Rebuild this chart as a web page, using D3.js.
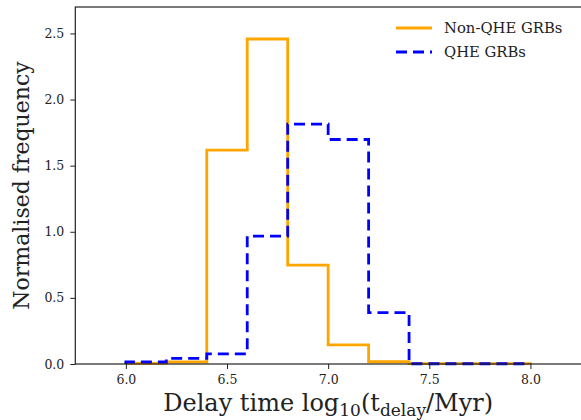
<!DOCTYPE html>
<html>
<head>
<meta charset="utf-8">
<script src="https://cdn.jsdelivr.net/npm/d3@7"></script>
<style>
  body { margin: 0; background: #fff; }
  svg text { font-family: "DejaVu Serif", "Liberation Serif", serif; fill: #222; }
</style>
</head>
<body>
<div id="chart"></div>
<script>
const width = 581;
const height = 420;

// bin edges of log10(t_delay / Myr)
const binEdges = [6.0, 6.2, 6.4, 6.6, 6.8, 7.0, 7.2, 7.4, 7.6, 7.8, 8.0];
// normalised frequencies per bin
const nonQheValues = [0.005, 0.015, 1.617, 2.458, 0.748, 0.144, 0.017, 0.003, 0.003, 0.003];
const qheValues = [0.015, 0.043, 0.076, 0.967, 1.814, 1.698, 0.388, 0.002, 0.002, 0.002];

const xTicks = [6.0, 6.5, 7.0, 7.5, 8.0];
const yTicks = [0.0, 0.5, 1.0, 1.5, 2.0, 2.5];

const series = [
    { name: "Non-QHE GRBs", values: nonQheValues, color: "#FFA500", dash: null },
    { name: "QHE GRBs", values: qheValues, color: "#0000FF", dash: "11,6" }
];

const margin = { left: 75.3, right: 0, top: 7, bottom: 56 };

const x = d3.scaleLinear()
    .domain([5.75, 8.25])
    .range([margin.left, width - margin.right]);

const y = d3.scaleLinear()
    .domain([0, 2.7])
    .range([height - margin.bottom, margin.top]);

const svg = d3.select("#chart")
    .append("svg")
    .attr("width", width)
    .attr("height", height);

// step outline like histtype="step"
function stepPath(values) {
    let d = `M${x(binEdges[0])},${y(0)}`;
    values.forEach((v, i) => {
        d += `V${y(v)}H${x(binEdges[i + 1])}`;
    });
    d += `V${y(0)}`;
    return d;
}

svg.selectAll("path.hist")
    .data(series)
    .join("path")
    .attr("class", "hist")
    .attr("d", d => stepPath(d.values))
    .attr("fill", "none")
    .attr("stroke", d => d.color)
    .attr("stroke-width", 2.8)
    .attr("stroke-dasharray", d => d.dash);

// axes
const xAxis = svg.append("g")
    .attr("transform", `translate(0,${y(0)})`)
    .call(d3.axisBottom(x).tickValues(xTicks).tickFormat(d3.format(".1f")).tickSize(5).tickPadding(6));

const yAxis = svg.append("g")
    .attr("transform", `translate(${x.range()[0]},0)`)
    .call(d3.axisLeft(y).tickValues(yTicks).tickFormat(d3.format(".1f")).tickSize(5).tickPadding(6));

[xAxis, yAxis].forEach(a => {
    a.select(".domain").remove();
    a.attr("font-family", null).attr("font-size", null);
    a.selectAll(".tick line").attr("stroke", "#222").attr("stroke-width", 1);
    a.selectAll(".tick text")
        .style("font-size", "12.5px")
        .attr("fill", "#222");
});

// frame
svg.append("rect")
    .attr("x", x.range()[0])
    .attr("y", y.range()[1])
    .attr("width", x.range()[1] - x.range()[0] + 2)
    .attr("height", y.range()[0] - y.range()[1])
    .attr("fill", "none")
    .attr("stroke", "#222")
    .attr("stroke-width", 1.2);

// axis labels
svg.append("text")
    .attr("transform", `translate(29,${(y.range()[0] + y.range()[1]) / 2}) rotate(-90)`)
    .attr("text-anchor", "middle")
    .style("font-size", "22px")
    .text("Normalised frequency");

const xl = svg.append("text")
    .attr("x", (x.range()[0] + x.range()[1]) / 2)
    .attr("y", 411)
    .attr("text-anchor", "middle")
    .style("font-size", "24px");
xl.append("tspan").text("Delay time log");
xl.append("tspan").style("font-size", "17px").attr("dy", 5).text("10");
xl.append("tspan").attr("dy", -5).text("(t");
xl.append("tspan").style("font-size", "17px").attr("dy", 5).text("delay");
xl.append("tspan").attr("dy", -5).text("/Myr)");

// legend
const legend = svg.append("g").attr("transform", "translate(396,28)");
series.forEach((s, i) => {
    const g = legend.append("g").attr("transform", `translate(0,${i * 24})`);
    g.append("line")
        .attr("x1", 0).attr("x2", 36)
        .attr("stroke", s.color)
        .attr("stroke-width", 2.8)
        .attr("stroke-dasharray", s.dash);
    g.append("text")
        .attr("x", 48)
        .attr("dy", "0.35em")
        .style("font-size", "14.8px")
        .text(s.name);
});
</script>
</body>
</html>
